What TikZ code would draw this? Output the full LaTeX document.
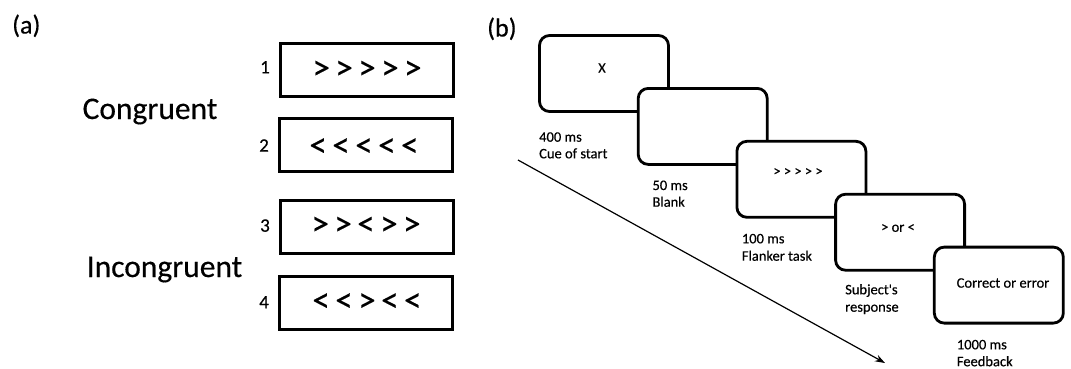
\documentclass[tikz,border=0pt]{standalone}
\usepackage{fontspec}
\setmainfont{Carlito}[FakeBold=0.4]
\usetikzlibrary{arrows.meta}
% fixed gap between the flanker chevrons
\newcommand\chgap{\hspace{5.5pt}}
\begin{document}
\begin{tikzpicture}[x=1pt,y=-1pt,
  panel/.style={font=\fontsize{26}{30}\selectfont, anchor=base west, inner sep=0},
  condition/.style={font=\fontsize{31.5}{36}\selectfont, anchor=base, inner sep=0},
  trialno/.style={font=\fontsize{19}{22}\selectfont, anchor=base, inner sep=0},
  trialbox/.style={draw, line width=3pt, minimum width=173pt, minimum height=53pt, inner sep=0},
  chevrons/.style={font=\fontsize{35}{40}\selectfont, inner sep=0},
  screen/.style={draw, line width=2.8pt, rounded corners=10pt, fill=white,
                 minimum width=129pt, minimum height=76pt, inner sep=0},
  screentext/.style={font=\fontsize{14.5}{17}\selectfont, inner sep=0},
  timing/.style={font=\fontsize{14.5}{17}\selectfont, anchor=base west, inner sep=0},
  timeline/.style={line width=1.2pt, -{Stealth[length=10pt,width=7pt]}}]
\useasboundingbox (0,0) rectangle (1071,368);

% ---- (a) flanker stimuli ----
\node[panel] (pa) at (12,33.5) {(a)};
\node[condition] (cong) at (150,119) {Congruent};
\node[condition] (incong) at (164.5,277) {Incongruent};

\node[trialbox] (t1) at (367,70) {};
\node[trialbox] (t2) at (366,145) {};
\node[trialbox] (t3) at (367,227) {};
\node[trialbox] (t4) at (366,303) {};

\node[chevrons] (c1) at (367,70) {>\chgap>\chgap>\chgap>\chgap>};
\node[chevrons] (c2) at (364,147.5) {<\chgap<\chgap<\chgap<\chgap<};
\node[chevrons] (c3) at (366,226) {>\chgap>\chgap<\chgap>\chgap>};
\node[chevrons] (c4) at (367,302.5) {<\chgap<\chgap>\chgap<\chgap<};

\node[trialno] (n1) at (265,73.3) {1};
\node[trialno] (n2) at (264,151.7) {2};
\node[trialno] (n3) at (265,231.7) {3};
\node[trialno] (n4) at (264,308.3) {4};

% ---- (b) trial sequence ----
\node[panel] (pb) at (487,36.5) {(b)};

\coordinate (tstart) at (518,160);
\coordinate (tend) at (885,363);
\draw[timeline] (tstart) -- (tend);

\node[screen] (s1) at (604,73.5) {};
\node[screen] (s2) at (702.7,126.4) {};
\node[screen] (s3) at (801.4,179.3) {};
\node[screen] (s4) at (900.1,232.2) {};
\node[screen] (s5) at (998.8,285.1) {};

\node[screentext] (x1) at (602,68) {X};
\node[screentext] (x3) at (798,172) {> > > > >};
\node[screentext] (x4) at (898,228) {> or <};
\node[screentext] (x5) at (1003,283) {Correct or error};

\node[timing] (d1) at (539,141.7) {400 ms};
\node[timing] (e1) at (539,158.3) {Cue of start};
\node[timing] (d2) at (652.3,190) {50 ms};
\node[timing] (e2) at (652.3,206.7) {Blank};
\node[timing] (d3) at (741.7,243.3) {100 ms};
\node[timing] (e3) at (741.7,260.7) {Flanker task};
\node[timing] (d4) at (845,294.3) {Subject\textquotesingle s};
\node[timing] (e4) at (845,311.7) {response};
\node[timing] (d5) at (956.7,349.3) {1000 ms};
\node[timing] (e5) at (956.7,366.2) {Feedback};
\end{tikzpicture}
\end{document}
